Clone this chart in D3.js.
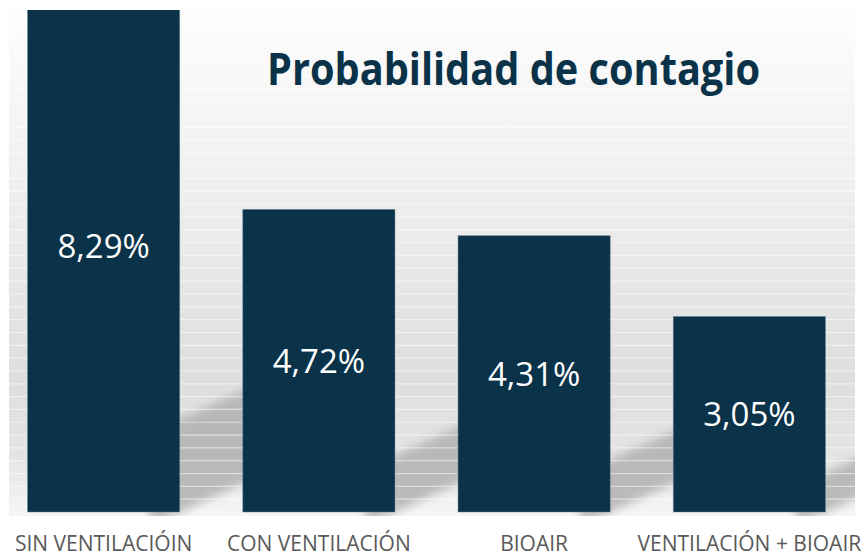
<!DOCTYPE html>
<html>
<head>
<meta charset="utf-8">
<script src="https://cdn.jsdelivr.net/npm/d3@7"></script>
<style>
  html, body { margin: 0; padding: 0; background: #ffffff; }
  #chart { width: 864px; height: 557px; }
</style>
</head>
<body>
<div id="chart"></div>
<script>
const categories = ["SIN VENTILACIÓIN", "CON VENTILACIÓN", "BIOAIR", "VENTILACIÓN + BIOAIR"];
const values = [8.29, 4.72, 4.31, 3.05];
const titleText = "Probabilidad de contagio";

function drawBar() {
  const container = d3.select("#chart");
  container.selectAll("*").remove();

  const width = 864;
  const height = 557;
  const plot = { left: 9, right: 855, top: 10, bottom: 512 };

  const svg = container.append("svg")
    .attr("width", width)
    .attr("height", height);

  const defs = svg.append("defs");

  // background fill of the plot area (light to grey, lighter at the floor)
  const bg = defs.append("linearGradient")
    .attr("id", "bgGrad")
    .attr("x1", 0).attr("y1", 0).attr("x2", 0).attr("y2", 1);
  bg.append("stop").attr("offset", "0%").attr("stop-color", "#fdfdfd");
  bg.append("stop").attr("offset", "35%").attr("stop-color", "#efefef");
  bg.append("stop").attr("offset", "72%").attr("stop-color", "#dedede");
  bg.append("stop").attr("offset", "88%").attr("stop-color", "#e4e4e4");
  bg.append("stop").attr("offset", "100%").attr("stop-color", "#f6f6f6");

  defs.append("filter").attr("id", "blur")
    .attr("x", "-30%").attr("y", "-30%").attr("width", "160%").attr("height", "160%")
    .append("feGaussianBlur").attr("stdDeviation", 5);

  defs.append("clipPath").attr("id", "plotClip")
    .append("rect")
    .attr("x", plot.left).attr("y", plot.top)
    .attr("width", plot.right - plot.left)
    .attr("height", plot.bottom - plot.top + 4);

  const x = d3.scaleBand()
    .domain(categories)
    .range([-4, 857])
    .paddingInner(0.293)
    .paddingOuter(0.1465);

  const y = d3.scaleLinear()
    .domain([0, 7.83])
    .range([plot.bottom, plot.top]);

  const fmt = d3.formatLocale({ decimal: ",", thousands: ".", grouping: [3], currency: ["", "€"] }).format(".2f");

  svg.append("rect")
    .attr("x", plot.left).attr("y", plot.top)
    .attr("width", plot.right - plot.left)
    .attr("height", plot.bottom - plot.top + 4)
    .attr("fill", "url(#bgGrad)");

  const g = svg.append("g").attr("clip-path", "url(#plotClip)");

  // shadows cast up-right behind the bars
  const slope = 0.45;
  g.append("g")
    .attr("filter", "url(#blur)")
    .selectAll("path")
    .data(values)
    .enter()
    .append("path")
    .attr("fill", "#b0b0b0")
    .attr("fill-opacity", 0.85)
    .attr("d", (d, i) => {
      const x1 = x(categories[i]) + x.bandwidth();
      const xs = x1 - 30;
      const L = 95;
      const T = (y(0) - y(d)) * 0.16 + 8;
      const b = y(0) + 30 * slope;
      return `M${xs},${b}L${x1 + L},${b - (L + 30) * slope}` +
        `L${x1 + L},${b - (L + 30) * slope - T}L${xs},${b - T}Z`;
    });

  // faint stripes every 0.2
  svg.append("g")
    .selectAll("line")
    .data(d3.range(0.2, 7.83, 0.2))
    .enter()
    .append("line")
    .attr("x1", plot.left).attr("x2", plot.right)
    .attr("y1", d => y(d)).attr("y2", d => y(d))
    .attr("stroke", "#ffffff")
    .attr("stroke-opacity", 0.5)
    .attr("stroke-width", 1.2);

  svg.append("g").attr("clip-path", "url(#plotClip)")
    .selectAll(".bar")
    .data(values)
    .enter()
    .append("rect")
    .attr("class", "bar")
    .attr("x", (d, i) => x(categories[i]))
    .attr("y", d => y(d))
    .attr("width", x.bandwidth())
    .attr("height", d => y(0) - y(d))
    .attr("fill", "#0a3248")
    .attr("stroke", "#6b8493")
    .attr("stroke-opacity", 0.6)
    .attr("stroke-width", 0.8);

  svg.selectAll(".val")
    .data(values)
    .enter()
    .append("text")
    .attr("class", "val")
    .attr("x", (d, i) => x(categories[i]) + x.bandwidth() / 2)
    .attr("y", d => (y(d) + y(0)) / 2 + 12)
    .attr("text-anchor", "middle")
    .attr("font-family", "'Open Sans', sans-serif")
    .attr("font-size", 33)
    .attr("fill", "#ffffff")
    .text(d => fmt(d) + "%");

  svg.selectAll(".cat")
    .data(categories)
    .enter()
    .append("text")
    .attr("class", "cat")
    .attr("x", d => x(d) + x.bandwidth() / 2)
    .attr("y", 551)
    .attr("text-anchor", "middle")
    .attr("font-family", "'Open Sans', sans-serif")
    .attr("font-size", 21)
    .attr("fill", "#595959")
    .text(d => d);

  svg.append("text")
    .attr("x", 513.5)
    .attr("y", 85)
    .attr("text-anchor", "middle")
    .attr("font-family", "'Open Sans', sans-serif")
    .attr("font-weight", "bold")
    .attr("font-size", 44)
    .attr("fill", "#0a3248")
    .attr("textLength", 493)
    .attr("lengthAdjust", "spacingAndGlyphs")
    .text(titleText);
}

drawBar();
</script>
</body>
</html>
